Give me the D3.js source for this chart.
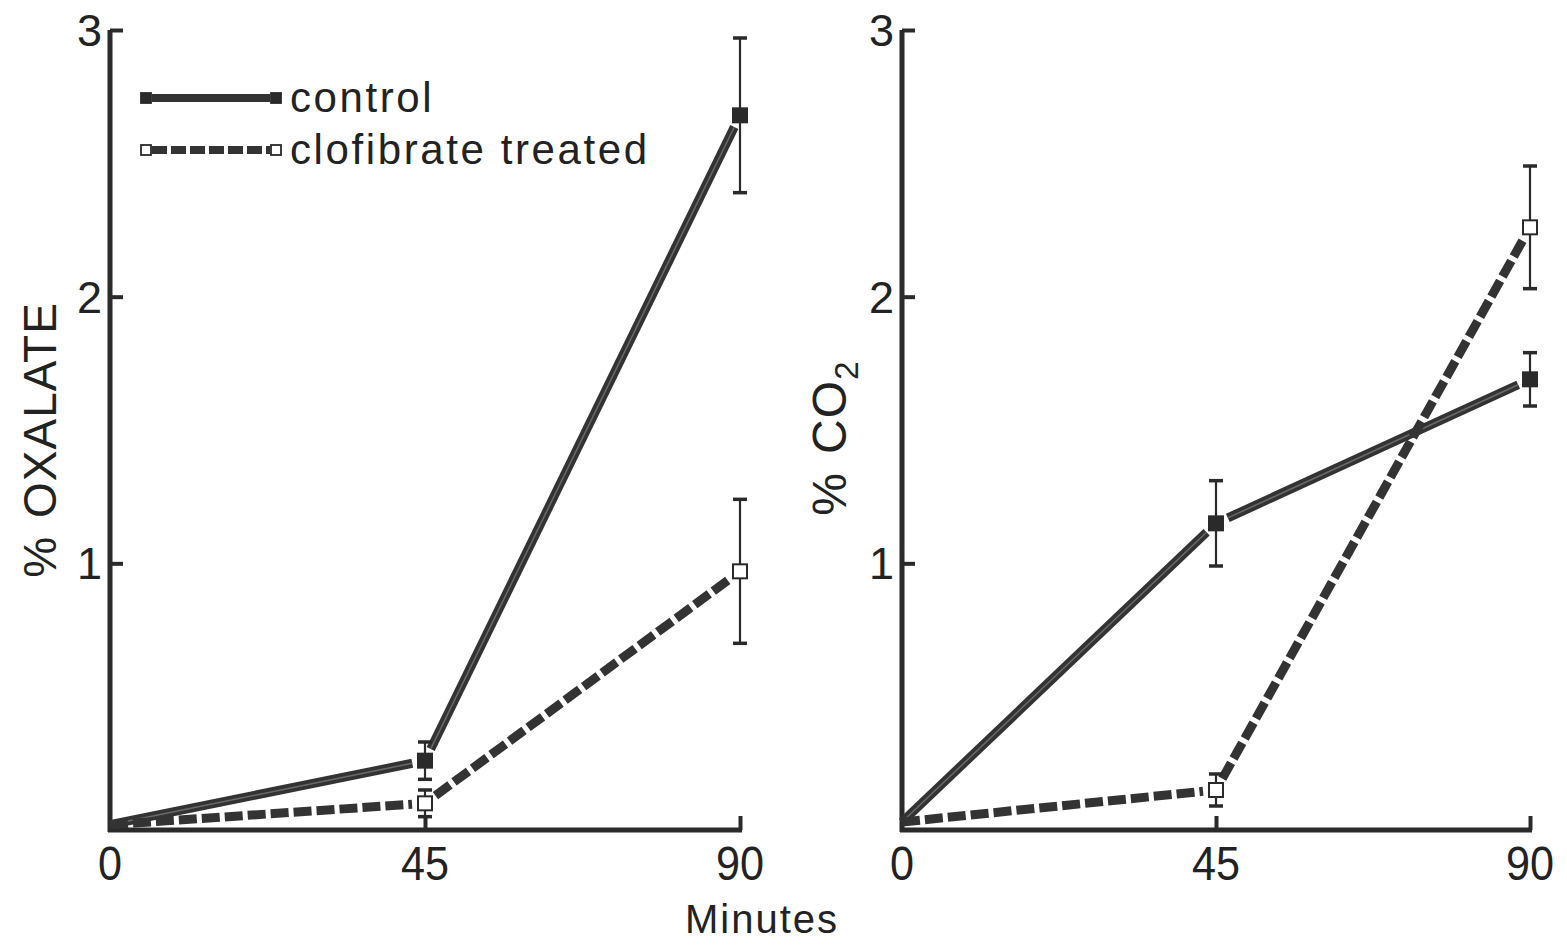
<!DOCTYPE html>
<html><head><meta charset="utf-8">
<script src="https://cdn.jsdelivr.net/npm/d3@7"></script>
<style>
html,body{margin:0;padding:0;background:#fff;}
svg text{font-family:"Liberation Sans",Arial,sans-serif;fill:#222;}
</style></head>
<body><svg id="c" width="1567" height="945"></svg>
<script>
// ---- data ----
const minutes = [0, 45, 90];
const xTicks = [0, 45, 90];
const yTicks = [1, 2, 3];
const seriesNames = ["control", "clofibrate treated"];
// % OXALATE
const oxalateControl = [0.02, 0.26, 2.68];
const oxalateControlErr = [0, 0.07, 0.29];
const oxalateClofibrate = [0.02, 0.10, 0.97];
const oxalateClofibrateErr = [0, 0.05, 0.27];
// % CO2
const co2Control = [0.03, 1.15, 1.69];
const co2ControlErr = [0, 0.16, 0.10];
const co2Clofibrate = [0.03, 0.15, 2.26];
const co2ClofibrateErr = [0, 0.06, 0.23];

const svg = d3.select("#c");
const INK = "#2a2a2a";

function panel(cfg) {
  const x = d3.scaleLinear().domain([0, 90]).range([cfg.x0, cfg.x1]);
  const y = d3.scaleLinear().domain([0, 3]).range([830, 30]);
  const g = svg.append("g");

  // axes
  const ya = g.append("g").attr("transform", `translate(${cfg.x0},0)`)
    .call(d3.axisRight(y).tickValues(yTicks).tickSize(13).tickFormat(""));
  ya.select(".domain").attr("d", `M0,${y(3)}V${y(0)+2}`).attr("stroke", INK).attr("stroke-width", 5);
  ya.selectAll(".tick line").attr("stroke", INK).attr("stroke-width", 4);
  const xa = g.append("g").attr("transform", `translate(0,${y(0)})`)
    .call(d3.axisTop(x).tickValues([45, 90]).tickSize(14).tickFormat(""));
  xa.select(".domain").attr("d", `M${cfg.x0-2},0H${cfg.x1+2}`).attr("stroke", INK).attr("stroke-width", 5);
  xa.selectAll(".tick line").attr("stroke", INK).attr("stroke-width", 4);

  // tick labels
  g.selectAll(".yl").data(yTicks).enter().append("text")
    .attr("x", cfg.x0 - 8).attr("y", d => y(d) + 16)
    .attr("text-anchor", "end").attr("font-size", 45).text(d => d);
  g.selectAll(".xl").data(xTicks).enter().append("text")
    .attr("transform", d => `translate(${x(d)},880) scale(0.9,1)`)
    .attr("text-anchor", "middle").attr("font-size", 48).text(d => d);

  // y label
  const lab = g.append("text")
    .attr("transform", `translate(${cfg.labelX},${cfg.labelY}) rotate(-90)`)
    .attr("text-anchor", "middle").attr("font-size", cfg.labelSize).attr("letter-spacing", 1);
  lab.append("tspan").text("%");
  lab.append("tspan").attr("dx", 18).text(cfg.label);
  if (cfg.sub) lab.append("tspan").attr("font-size", cfg.labelSize * 0.7).attr("dy", 12).text(cfg.sub);

  // series
  const series = [
    {v: cfg.ctrl, e: cfg.ctrlErr, dash: null, fill: INK},
    {v: cfg.clof, e: cfg.clofErr, dash: "18,5", fill: "#fff"}
  ];
  series.forEach(s => {
    for (let i = 0; i < minutes.length - 1; i++) {
      let ax = x(minutes[i]), ay = y(s.v[i]), bx = x(minutes[i+1]), by = y(s.v[i+1]);
      const L = Math.hypot(bx - ax, by - ay), ux = (bx - ax) / L, uy = (by - ay) / L;
      const gapA = i === 0 ? 0 : 13, gapB = 13;
      g.append("line")
        .attr("x1", ax + ux * gapA).attr("y1", ay + uy * gapA)
        .attr("x2", bx - ux * gapB).attr("y2", by - uy * gapB)
        .attr("stroke", "#333").attr("stroke-width", 9)
        .attr("stroke-dasharray", s.dash);
      if (!s.dash) {
        g.append("line")
          .attr("x1", ax + ux * gapA).attr("y1", ay + uy * gapA)
          .attr("x2", bx - ux * gapB).attr("y2", by - uy * gapB)
          .attr("stroke", "#6a6a6a").attr("stroke-width", 1.5);
      }
    }
  });
  series.forEach(s => {
    minutes.forEach((m, i) => {
      if (i === 0) return;
      const cx = x(m);
      const top = y(s.v[i] + s.e[i]), bot = y(s.v[i] - s.e[i]);
      g.append("line").attr("x1", cx).attr("x2", cx).attr("y1", top).attr("y2", bot)
        .attr("stroke", INK).attr("stroke-width", 2.2);
      [top, bot].forEach(yy => g.append("line").attr("x1", cx - 7).attr("x2", cx + 7)
        .attr("y1", yy).attr("y2", yy).attr("stroke", INK).attr("stroke-width", 3.5));
      g.append("rect").attr("x", cx - 7).attr("y", y(s.v[i]) - 7)
        .attr("width", 14).attr("height", 14)
        .attr("fill", s.fill).attr("stroke", INK).attr("stroke-width", 2);
    });
  });
  return g;
}

panel({x0: 110, x1: 740, label: "OXALATE", labelX: 56, labelY: 440, labelSize: 46,
  ctrl: oxalateControl, ctrlErr: oxalateControlErr, clof: oxalateClofibrate, clofErr: oxalateClofibrateErr});
panel({x0: 902, x1: 1530, label: "CO", sub: "2", labelX: 846, labelY: 438, labelSize: 48,
  ctrl: co2Control, ctrlErr: co2ControlErr, clof: co2Clofibrate, clofErr: co2ClofibrateErr});

// x title
svg.append("text").attr("x", 762).attr("y", 933).attr("text-anchor", "middle")
  .attr("font-size", 40).attr("letter-spacing", 2).text("Minutes");

// legend
const leg = svg.append("g");
const legY = [98, 150];
seriesNames.forEach((name, i) => {
  const yy = legY[i];
  leg.append("line").attr("x1", 152).attr("x2", 270).attr("y1", yy).attr("y2", yy)
    .attr("stroke", "#333").attr("stroke-width", 8).attr("stroke-dasharray", i ? "15,4" : null);
  [146, 276].forEach(xx => leg.append("rect").attr("x", xx - 5).attr("y", yy - 5)
    .attr("width", 10).attr("height", 10)
    .attr("fill", i ? "#fff" : INK).attr("stroke", INK).attr("stroke-width", 1.8));
  leg.append("text").attr("x", 290).attr("y", yy + 14).attr("font-size", 42)
    .attr("letter-spacing", 2.6).text(name);
});
</script></body></html>
